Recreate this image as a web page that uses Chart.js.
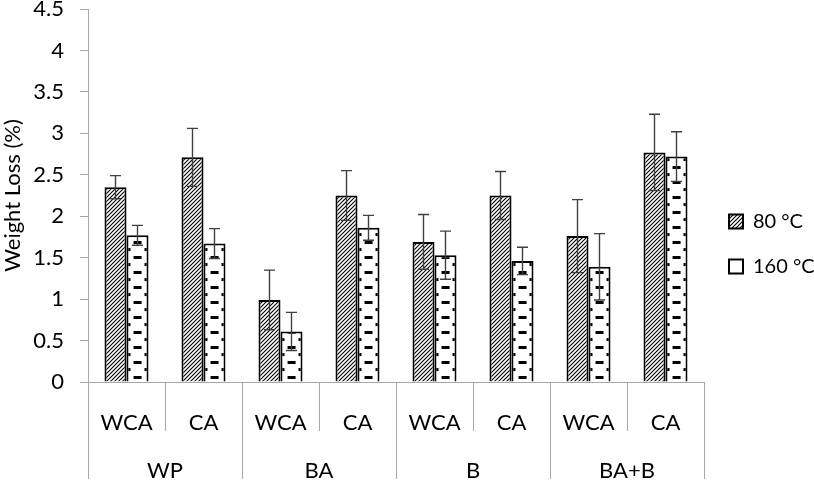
<!DOCTYPE html>
<html>
<head>
<meta charset="utf-8">
<script src="https://cdn.jsdelivr.net/npm/chart.js@4.4.0/dist/chart.umd.min.js"></script>
<style>
  body { margin: 0; background: #fff; }
</style>
</head>
<body>
<canvas id="weightLoss" width="814" height="483"></canvas>
<script>
// values
const subLabels = ['WCA', 'CA', 'WCA', 'CA', 'WCA', 'CA', 'WCA', 'CA'];
const groupLabels = ['WP', 'BA', 'B', 'BA+B'];
const seriesNames = ['80 °C', '160 °C'];
const loss80 = [2.35, 2.71, 0.99, 2.25, 1.69, 2.25, 1.76, 2.77];
const err80 = [0.14, 0.35, 0.36, 0.30, 0.33, 0.29, 0.44, 0.46];
const loss160 = [1.77, 1.67, 0.61, 1.86, 1.53, 1.46, 1.39, 2.72];
const err160 = [0.12, 0.18, 0.23, 0.15, 0.29, 0.165, 0.40, 0.30];

const gray = '#a6a6a6';
const font = { family: 'Lato', size: 22 };
Chart.defaults.font.family = 'Lato';

// diagonal hatch for the 80 °C bars
function makeHatch() {
    const c = document.createElement('canvas');
    c.width = 4; c.height = 4;
    const g = c.getContext('2d');
    g.fillStyle = '#fff';
    g.fillRect(0, 0, 4, 4);
    g.strokeStyle = '#000';
    g.lineWidth = 1.1;
    g.beginPath();
    for (let k = -1; k <= 1; k++) {
        g.moveTo(k * 4 - 1, 5);
        g.lineTo(k * 4 + 5, -1);
    }
    g.stroke();
    return g.createPattern(c, 'repeat');
}

// dashes for the 160 °C bars, one tile per category (77 px wide)
function makeDashes() {
    const c = document.createElement('canvas');
    c.width = 77; c.height = 15;
    const g = c.getContext('2d');
    g.fillStyle = '#fff';
    g.fillRect(0, 0, 77, 15);
    g.fillStyle = '#000';
    g.fillRect(7, 9, 8, 3);
    g.fillRect(0, 1, 4, 3);
    g.fillRect(18, 1, 4, 3);
    return g.createPattern(c, 'repeat');
}

const hatchFill = makeHatch();
const dashFill = makeDashes();

const alignDashes = {
    id: 'alignDashes',
    beforeDatasetsDraw(chart) {
        const bar = chart.getDatasetMeta(1).data[0];
        const base = chart.scales.y.getPixelForValue(0);
        dashFill.setTransform(new DOMMatrix().translate(bar.x - bar.width / 2, base));
    }
};

const errorBars = {
    id: 'errorBars',
    afterDatasetsDraw(chart) {
        const { ctx, scales: { y } } = chart;
        ctx.save();
        ctx.strokeStyle = '#404040';
        ctx.lineWidth = 1.4;
        chart.data.datasets.forEach((ds, di) => {
            chart.getDatasetMeta(di).data.forEach((bar, i) => {
                const top = y.getPixelForValue(ds.data[i] + ds.errors[i]);
                const bot = y.getPixelForValue(ds.data[i] - ds.errors[i]);
                ctx.beginPath();
                ctx.moveTo(bar.x, top); ctx.lineTo(bar.x, bot);
                ctx.moveTo(bar.x - 5.5, top); ctx.lineTo(bar.x + 5.5, top);
                ctx.moveTo(bar.x - 5.5, bot); ctx.lineTo(bar.x + 5.5, bot);
                ctx.stroke();
            });
        });
        ctx.restore();
    }
};

// category separators for the two label rows
const axisDividers = {
    id: 'axisDividers',
    afterDraw(chart) {
        const { ctx, chartArea, scales: { x, x2 } } = chart;
        ctx.save();
        ctx.strokeStyle = gray;
        ctx.lineWidth = 1;
        for (let i = 0; i <= subLabels.length; i++) {
            const px = Math.round(x.getPixelForValue(i - 0.5)) + 0.5;
            ctx.beginPath();
            ctx.moveTo(px, chartArea.bottom);
            ctx.lineTo(px, i % 2 ? x.bottom : x2.bottom);
            ctx.stroke();
        }
        ctx.restore();
    }
};

new Chart(document.getElementById('weightLoss').getContext('2d'), {
    type: 'bar',
    data: {
        labels: subLabels,
        datasets: [{
            label: seriesNames[0],
            data: loss80,
            errors: err80,
            backgroundColor: hatchFill,
            borderColor: '#000',
            borderWidth: 2,
            categoryPercentage: 44 / 77,
            barPercentage: 1
        }, {
            label: seriesNames[1],
            data: loss160,
            errors: err160,
            backgroundColor: dashFill,
            borderColor: '#000',
            borderWidth: 2,
            categoryPercentage: 44 / 77,
            barPercentage: 1
        }]
    },
    options: {
        responsive: false,
        animation: false,
        layout: { padding: { top: 9, right: 0, bottom: 4, left: 0 } },
        plugins: {
            tooltip: { enabled: false },
            legend: {
                position: 'right',
                maxWidth: 110,
                labels: { font: { family: 'Lato', size: 20 }, color: '#000', boxWidth: 14, boxHeight: 14, padding: 25 }
            }
        },
        scales: {
            y: {
                min: 0,
                max: 4.5,
                ticks: {
                    stepSize: 0.5, color: '#000', padding: 16,
                    font: { family: 'Lato', size: 22, lineHeight: 1 },
                    callback: (v) => String(v)
                },
                grid: { drawOnChartArea: false, tickLength: 8, color: gray },
                border: { color: gray },
                title: { display: true, text: 'Weight Loss (%)', font: font, color: '#000', padding: 0 },
                afterFit(s) { s.width = 88; s.paddingTop = 0; s.paddingBottom = 0; }
            },
            x: {
                offset: true,
                grid: { display: false },
                border: { color: gray },
                ticks: { color: '#000', font: font, padding: 20, maxRotation: 0, autoSkip: false },
                afterFit(s) { s.height = 49; }
            },
            x2: {
                type: 'category',
                labels: groupLabels,
                position: 'bottom',
                offset: true,
                grid: { display: false },
                border: { display: false },
                ticks: { color: '#000', font: font, padding: 19, maxRotation: 0 },
                afterFit(s) { s.height = 48; }
            }
        }
    },
    plugins: [alignDashes, errorBars, axisDividers]
});
</script>
</body>
</html>
